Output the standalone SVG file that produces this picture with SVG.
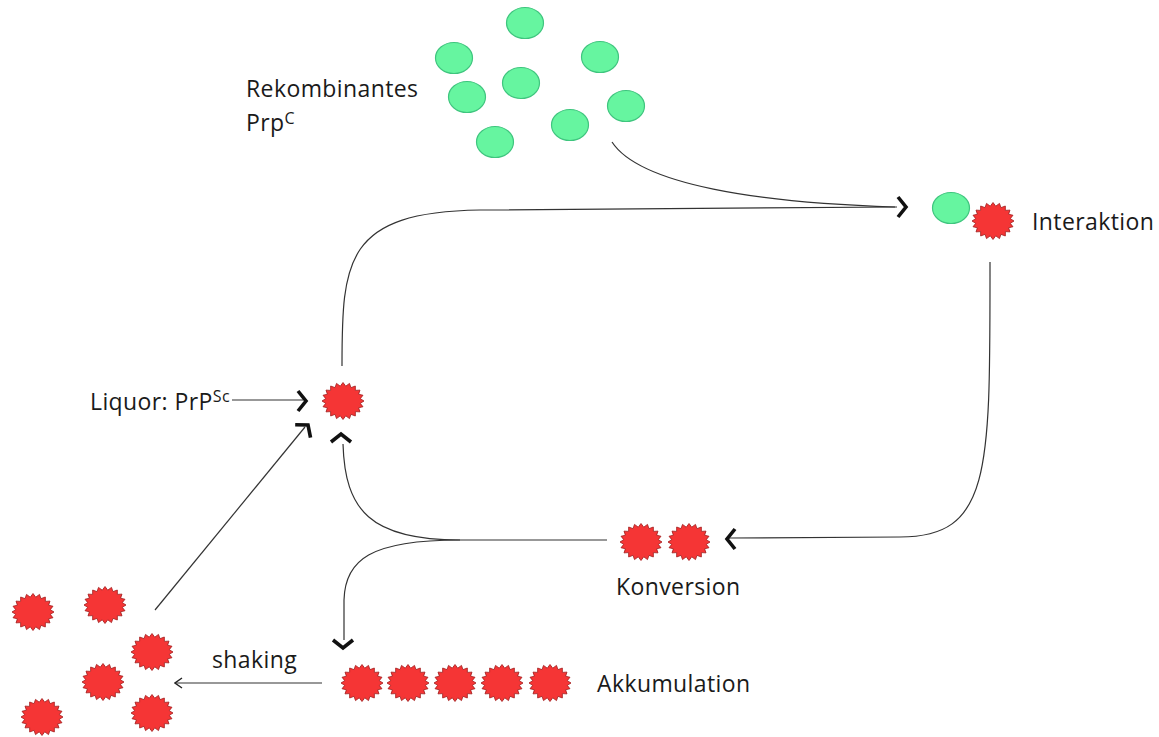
<svg xmlns="http://www.w3.org/2000/svg" width="1159" height="737" viewBox="0 0 1159 737">
<style>
text{font-family:"Open Sans","Noto Sans","Liberation Sans",sans-serif;font-size:23px;letter-spacing:0.4px;fill:#1a1a1a}
.sup{font-size:16px}
.green{fill:#66f5a0;stroke:#3fc57e;stroke-width:1.2}
.conn{fill:none;stroke:#333;stroke-width:1.2}
.chev{fill:none;stroke:#111;stroke-width:3.6;stroke-linejoin:miter}
</style>
<defs>
<path id="star" d="M21,0 L17.28,2.35 L19.97,5.72 L15.59,6.81 L16.99,10.87 L12.37,10.61 L12.34,14.97 L7.95,13.37 L6.49,17.6 L2.74,14.82 L0,18.5 L-2.74,14.82 L-6.49,17.6 L-7.95,13.37 L-12.34,14.97 L-12.37,10.61 L-16.99,10.87 L-15.59,6.81 L-19.97,5.72 L-17.28,2.35 L-21,0 L-17.28,-2.35 L-19.97,-5.72 L-15.59,-6.81 L-16.99,-10.87 L-12.37,-10.61 L-12.34,-14.97 L-7.95,-13.37 L-6.49,-17.6 L-2.74,-14.82 L0,-18.5 L2.74,-14.82 L6.49,-17.6 L7.95,-13.37 L12.34,-14.97 L12.37,-10.61 L16.99,-10.87 L15.59,-6.81 L19.97,-5.72 L17.28,-2.35 Z" fill="#f53535" stroke="#a01818" stroke-width="0.8"/>
<path id="chev" d="M-8,-10 L0,0 L-8,10"/>
<marker id="open" viewBox="0 0 12 12" refX="11" refY="6" markerWidth="12" markerHeight="12" markerUnits="userSpaceOnUse" orient="auto">
<path d="M4,1 L11,6 L4,11" fill="none" stroke="#222" stroke-width="1.4"/>
</marker>
</defs>

<g id="connectors">
<path class="conn" d="M612,142 C640,185 760,203 895,207"/>
<path class="conn" d="M342,366 C342,260 345,212 480,210 L897,207"/>
<path class="conn" d="M990,262 C990,470 992,537 900,537 L729,538"/>
<path class="conn" d="M343,444 C345,510 370,540 460,540 L607,540"/>
<path class="conn" d="M460,540 C370,540 345,560 344,600 L344,640"/>
<path class="conn" d="M232,400 L303,400"/>
<path class="conn" d="M155,610 L305,427"/>
<path class="conn" d="M322,683 L175,683" stroke-width="1.5" marker-end="url(#open)"/>
<g class="chev">
<use href="#chev" transform="translate(906,207)"/>
<use href="#chev" transform="translate(306,401)"/>
<use href="#chev" transform="translate(308,425) rotate(-50)"/>
<use href="#chev" transform="translate(341,434) rotate(-90)"/>
<use href="#chev" transform="translate(727,539) rotate(180)"/>
<use href="#chev" transform="translate(343,648) rotate(90)"/>
</g>
</g>

<g id="rekombinantes">
<ellipse class="green" cx="525" cy="23" rx="18.5" ry="15.5"/>
<ellipse class="green" cx="454" cy="58" rx="18.5" ry="15.5"/>
<ellipse class="green" cx="600" cy="57" rx="18.5" ry="15.5"/>
<ellipse class="green" cx="521" cy="83" rx="18.5" ry="15.5"/>
<ellipse class="green" cx="467" cy="97" rx="18.5" ry="15.5"/>
<ellipse class="green" cx="626" cy="106" rx="18.5" ry="15.5"/>
<ellipse class="green" cx="570" cy="125" rx="18.5" ry="15.5"/>
<ellipse class="green" cx="495" cy="142" rx="18.5" ry="15.5"/>
<text x="246" y="97">Rekombinantes</text>
<text x="246" y="131">Prp<tspan class="sup" dy="-7">C</tspan></text>
</g>

<g id="interaktion">
<ellipse class="green" cx="951" cy="208" rx="18.5" ry="15.5"/>
<use href="#star" x="993" y="221"/>
<text x="1032" y="230">Interaktion</text>
</g>

<g id="liquor">
<use href="#star" x="343" y="401"/>
<text x="90" y="410">Liquor: PrP<tspan class="sup" font-size="17" dy="-8">Sc</tspan></text>
</g>

<g id="konversion">
<use href="#star" x="641" y="542"/>
<use href="#star" x="689" y="542"/>
<text x="616" y="595">Konversion</text>
</g>

<g id="akkumulation">
<use href="#star" x="362" y="683"/>
<use href="#star" x="408" y="683"/>
<use href="#star" x="455" y="683"/>
<use href="#star" x="502" y="683"/>
<use href="#star" x="550" y="683"/>
<text x="597" y="692">Akkumulation</text>
</g>

<g id="shaking">
<use href="#star" x="33" y="612"/>
<use href="#star" x="105" y="605"/>
<use href="#star" x="152" y="652"/>
<use href="#star" x="103" y="682"/>
<use href="#star" x="42" y="717"/>
<use href="#star" x="152" y="713"/>
<text x="212" y="668">shaking</text>
</g>
</svg>
